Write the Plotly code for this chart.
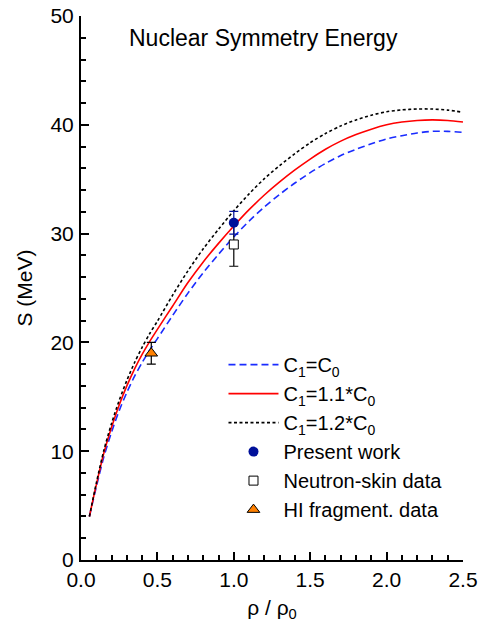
import plotly.graph_objects as go

# density grid (rho / rho0)
rho = [0.055, 0.1, 0.15, 0.2, 0.25, 0.3, 0.35, 0.4, 0.45, 0.5, 0.6, 0.7, 0.8, 0.9, 1.0,
       1.1, 1.2, 1.3, 1.4, 1.5, 1.6, 1.7, 1.8, 1.9, 2.0, 2.1, 2.2, 2.3, 2.4, 2.5]
s_c0 = [4.0, 6.7, 9.5, 11.75, 13.73, 15.4, 16.87, 18.15, 19.3, 20.35, 22.48, 24.53, 26.4, 28.1, 29.7,
        31.15, 32.45, 33.6, 34.65, 35.6, 36.45, 37.17, 37.75, 38.25, 38.7, 39.0, 39.25, 39.4, 39.4, 39.3]
s_c11 = [4.0, 6.9, 9.85, 12.2, 14.25, 16.0, 17.55, 18.9, 20.1, 21.2, 23.35, 25.5, 27.4, 29.1, 30.7,
         32.2, 33.55, 34.75, 35.85, 36.85, 37.75, 38.5, 39.1, 39.6, 40.0, 40.25, 40.4, 40.45, 40.4, 40.25]
s_c12 = [4.0, 7.05, 10.1, 12.55, 14.67, 16.5, 18.13, 19.55, 20.82, 21.95, 24.35, 26.58, 28.6, 30.4, 32.1,
         33.65, 35.05, 36.25, 37.35, 38.35, 39.2, 39.9, 40.45, 40.88, 41.2, 41.37, 41.45, 41.45, 41.35, 41.15]

present_x = [1.0]
present_y = [31.0]
present_err = [1.05]
skin_x = [1.0]
skin_y = [29.0]
skin_err = [2.0]
hi_x = [0.46]
hi_y = [19.0]
hi_err = [1.0]

FONT = "Liberation Sans, Arial, Helvetica, sans-serif"

fig = go.Figure()
fig.add_trace(go.Scatter(x=rho, y=s_c0, mode="lines", name="C<sub>1</sub>=C<sub>0</sub>",
                         line=dict(color="#1a2cff", width=1.6, dash="7px,4px", shape="spline", smoothing=0.8),
                         legendrank=1))
fig.add_trace(go.Scatter(x=rho, y=s_c11, mode="lines", name="C<sub>1</sub>=1.1*C<sub>0</sub>",
                         line=dict(color="#ff0000", width=1.6, shape="spline", smoothing=0.8), legendrank=2))
fig.add_trace(go.Scatter(x=rho, y=s_c12, mode="lines", name="C<sub>1</sub>=1.2*C<sub>0</sub>",
                         line=dict(color="#000000", width=1.6, dash="3px,2.5px", shape="spline", smoothing=0.8),
                         legendrank=3))
fig.add_trace(go.Scatter(x=skin_x, y=skin_y, mode="markers", name="Neutron-skin data",
                         marker=dict(symbol="square", size=9, color="white",
                                     line=dict(color="black", width=1)),
                         error_y=dict(type="data", array=skin_err, color="black", thickness=1.2, width=4.5),
                         legendrank=5))
fig.add_trace(go.Scatter(x=present_x, y=present_y, mode="markers", name="Present work",
                         marker=dict(symbol="circle", size=10, color="#00109a",
                                     line=dict(color="#00109a", width=0)),
                         error_y=dict(type="data", array=present_err, color="#00109a", thickness=1.2, width=4.5),
                         legendrank=4))
fig.add_trace(go.Scatter(x=hi_x, y=hi_y, mode="markers", name="HI fragment. data",
                         marker=dict(symbol="triangle-up", size=11, color="#ff8000",
                                     line=dict(color="black", width=1)),
                         error_y=dict(type="data", array=hi_err, color="black", thickness=1.2, width=4.5),
                         legendrank=6))

fig.add_annotation(text="Nuclear Symmetry Energy", xref="paper", yref="paper",
                   x=0.478, y=0.9595, xanchor="center", yanchor="middle", showarrow=False,
                   font=dict(family=FONT, size=23, color="black"))

axis_common = dict(showline=True, linecolor="black", linewidth=2, ticks="inside", tickcolor="black",
                   tickwidth=1.5, ticklen=8, showgrid=False, zeroline=False, mirror=False,
                   automargin=False, tickfont=dict(family=FONT, size=21, color="black"))

fig.update_xaxes(range=[0, 2.5], dtick=0.5, tick0=0, tickformat=".1f",
                 minor=dict(dtick=0.1, ticks="inside", ticklen=5, tickwidth=1.5, tickcolor="black", showgrid=False),
                 title=dict(text="ρ / ρ<sub>0</sub>", font=dict(family=FONT, size=21, color="black"), standoff=10),
                 **axis_common)
fig.update_yaxes(range=[0, 50], dtick=10, tick0=0,
                 minor=dict(dtick=2, ticks="inside", ticklen=5, tickwidth=1.5, tickcolor="black", showgrid=False),
                 title=dict(text="S (MeV)", font=dict(family=FONT, size=21, color="black"), standoff=12),
                 ticklabelstandoff=1,
                 **axis_common)

fig.update_layout(width=481, height=626, margin=dict(l=81, r=18, t=16, b=66),
                  paper_bgcolor="white", plot_bgcolor="white", showlegend=True,
                  legend=dict(x=0.373, y=0.395, xanchor="left", yanchor="top", bgcolor="rgba(0,0,0,0)",
                              borderwidth=0, itemwidth=50, tracegroupgap=0,
                              font=dict(family=FONT, size=20, color="black")))

fig.write_html("out.html", config={"displayModeBar": False},
               post_script="document.body.style.margin='0';document.body.style.overflow='hidden';")
